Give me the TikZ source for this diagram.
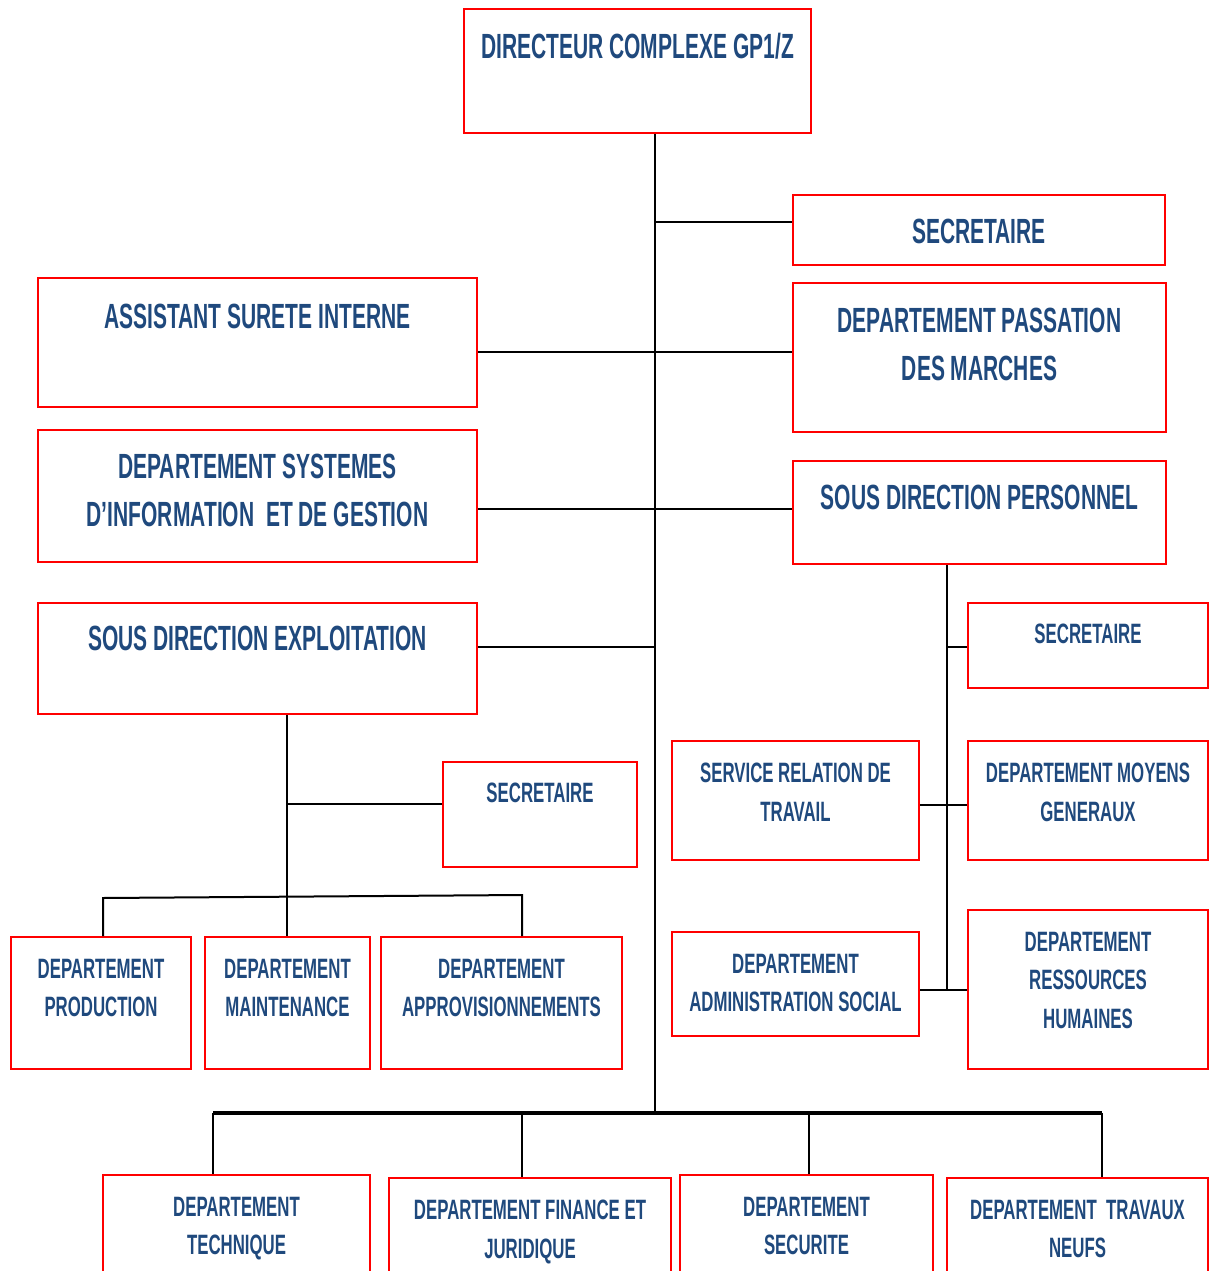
\documentclass[tikz,border=0pt]{standalone}
\usepackage{fontspec}
\setmainfont{Liberation Sans}[FakeStretch=0.60]

\definecolor{orgblue}{RGB}{31,73,125}
\definecolor{orgred}{RGB}{255,0,0}

\begin{document}
\begin{tikzpicture}[x=1pt, y=-1pt,
    box/.style={rectangle, draw=orgred, line width=2pt, inner sep=0pt},
    big/.style={anchor=north, inner sep=0pt, align=center, text=orgblue,
      font=\bfseries\fontsize{35}{48}\selectfont},
    small/.style={anchor=north, inner sep=0pt, align=center, text=orgblue,
      font=\bfseries\fontsize{28}{38.5}\selectfont},
    link/.style={line width=2pt},
    bar/.style={line width=3.4pt},
    drop/.style={line width=1.4pt}]
    \useasboundingbox (0,0) rectangle (1216,1271);
    \clip (0,0) rectangle (1216,1271);

    % boxes
    \node[box, minimum width=347, minimum height=124] (dir) at (637.5,71) {};
    \node[box, minimum width=372, minimum height=70] (sec1) at (979,230) {};
    \node[box, minimum width=439, minimum height=129] (asi) at (257.5,342.5) {};
    \node[box, minimum width=373, minimum height=149] (dpm) at (979.5,357.5) {};
    \node[box, minimum width=439, minimum height=132] (dsig) at (257.5,496) {};
    \node[box, minimum width=373, minimum height=103] (sdp) at (979.5,512.5) {};
    \node[box, minimum width=439, minimum height=111] (sde) at (257.5,658.5) {};
    \node[box, minimum width=240, minimum height=85] (sec2) at (1088,645.5) {};
    \node[box, minimum width=247, minimum height=119] (srt) at (795.5,800.5) {};
    \node[box, minimum width=240, minimum height=119] (dmg) at (1088,800.5) {};
    \node[box, minimum width=194, minimum height=105] (sec3) at (540,814.5) {};
    \node[box, minimum width=247, minimum height=104] (das) at (795.5,984) {};
    \node[box, minimum width=240, minimum height=159] (drh) at (1088,989.5) {};
    \node[box, minimum width=180, minimum height=132] (dprod) at (101,1003) {};
    \node[box, minimum width=165, minimum height=132] (dmaint) at (287.5,1003) {};
    \node[box, minimum width=241, minimum height=132] (dappro) at (501.5,1003) {};
    \node[box, minimum width=267, minimum height=125] (dtech) at (236.5,1237.5) {};
    \node[box, minimum width=282, minimum height=122] (dfin) at (530,1239) {};
    \node[box, minimum width=253, minimum height=125] (dsecu) at (806.5,1237.5) {};
    \node[box, minimum width=261, minimum height=122] (dtrav) at (1077.5,1239) {};

    % texts
    \node[big] (dir-t) at (637.5,32.5) {DIRECTEUR COMPLEXE GP1/Z};
    \node[big] (sec1-t) at (979,218.5) {SECRETAIRE};
    \node[big] (asi-t) at (257.5,303.5) {ASSISTANT SURETE INTERNE};
    \node[big] (dpm-t) at (979.5,307.5) {DEPARTEMENT PASSATION\\DES MARCHES};
    \node[big] (dsig-t) at (257.5,453.5) {DEPARTEMENT SYSTEMES\\D’INFORMATION~ ET DE GESTION};
    \node[big] (sdp-t) at (979.5,484.5) {SOUS DIRECTION PERSONNEL};
    \node[big] (sde-t) at (257.5,625.5) {SOUS DIRECTION EXPLOITATION};
    \node[small] (sec2-t) at (1088,624) {SECRETAIRE};
    \node[small] (srt-t) at (795.5,763) {SERVICE RELATION DE\\TRAVAIL};
    \node[small] (dmg-t) at (1088,763) {DEPARTEMENT MOYENS\\GENERAUX};
    \node[small] (sec3-t) at (540,783) {SECRETAIRE};
    \node[small] (das-t) at (795.5,954) {DEPARTEMENT\\ADMINISTRATION SOCIAL};
    \node[small] (drh-t) at (1088,932) {DEPARTEMENT\\RESSOURCES\\HUMAINES};
    \node[small] (dprod-t) at (101,959) {DEPARTEMENT\\PRODUCTION};
    \node[small] (dmaint-t) at (287.5,959) {DEPARTEMENT\\MAINTENANCE};
    \node[small] (dappro-t) at (501.5,959) {DEPARTEMENT\\APPROVISIONNEMENTS};
    \node[small] (dtech-t) at (236.5,1197) {DEPARTEMENT\\TECHNIQUE};
    \node[small] (dfin-t) at (530,1200) {DEPARTEMENT FINANCE ET\\JURIDIQUE};
    \node[small] (dsecu-t) at (806.5,1197) {DEPARTEMENT\\SECURITE};
    \node[small] (dtrav-t) at (1077.5,1200) {DEPARTEMENT~ TRAVAUX\\NEUFS};

    % junctions
    \coordinate (j1) at (655,222);
    \coordinate (j2) at (655,352);
    \coordinate (j3) at (655,509);
    \coordinate (j4) at (655,647);
    \coordinate (tr) at (655,1113);
    \coordinate (k1) at (947,647);
    \coordinate (k2) at (947,805);
    \coordinate (k3) at (947,990);
    \coordinate (e1) at (287,804);
    \coordinate (b1) at (103,898);
    \coordinate (b2) at (522,895);
    \coordinate (f1) at (213,1113);
    \coordinate (f2) at (522,1113);
    \coordinate (f3) at (809,1113);
    \coordinate (f4) at (1102,1113);

    % connectors
    \draw[link] (dir.south -| tr) -- (tr);
    \draw[link] (j1) -- (sec1.west |- j1);
    \draw[link] (asi.east |- j2) -- (dpm.west |- j2);
    \draw[link] (dsig.east |- j3) -- (sdp.west |- j3);
    \draw[link] (sde.east |- j4) -- (j4);
    \draw[link] (sdp.south -| k3) -- (k3);
    \draw[link] (k1) -- (sec2.west |- k1);
    \draw[link] (srt.east |- k2) -- (dmg.west |- k2);
    \draw[link] (das.east |- k3) -- (drh.west |- k3);
    \draw[link] (sde.south -| e1) -- (dmaint.north -| e1);
    \draw[link] (e1) -- (sec3.west |- e1);
    \draw[link] (dprod.north -| b1) -- (b1) -- (b2) -- (dappro.north -| b2);
    \draw[bar] (f1) -- (f4);
    \draw[drop]
      (f1) -- (dtech.north -| f1)
      (f2) -- (dfin.north -| f2)
      (f3) -- (dsecu.north -| f3)
      (f4) -- (dtrav.north -| f4);
  \end{tikzpicture}
\end{document}
